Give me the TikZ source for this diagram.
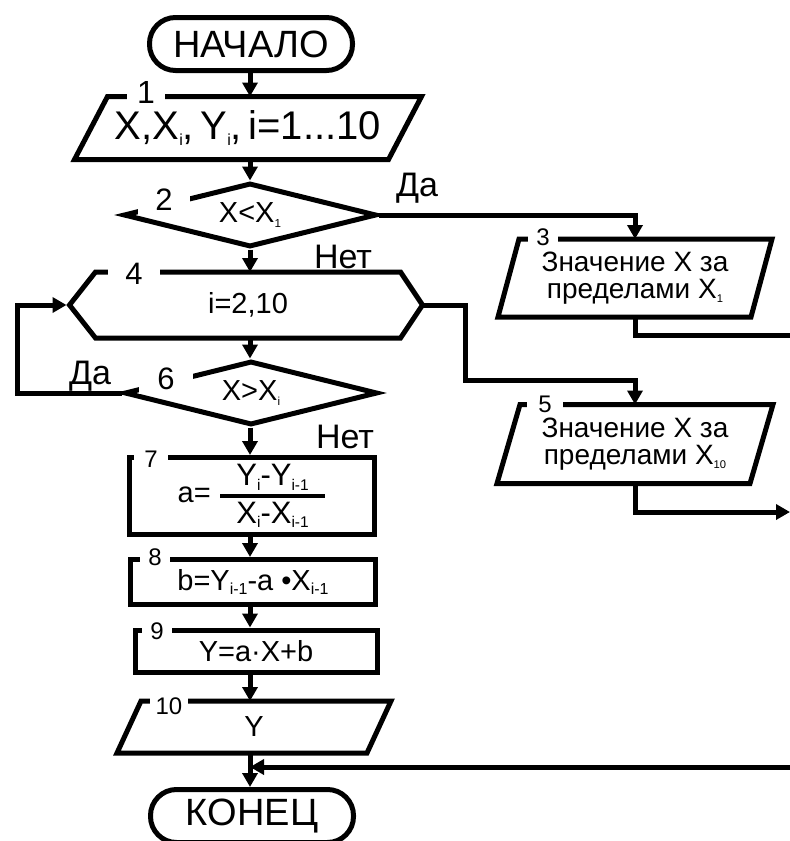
\documentclass[tikz,border=0pt]{standalone}
\usepackage{fontspec}
\setmainfont{Liberation Sans}
\usetikzlibrary{arrows.meta,shapes.geometric}

\newcommand{\fsz}[1]{\fontsize{#1}{#1}\selectfont}
\newcommand{\ix}[2][.4]{\raisebox{-.15em}{\scalebox{#1}{#2}}}
% parallelogram round an (undrawn) node: name, half skew
\newcommand{\ioshape}[2]{%
  \draw ([xshift=#2]#1.north west) -- ([xshift=#2]#1.north east)
    -- ([xshift=-#2]#1.south east) -- ([xshift=-#2]#1.south west) -- cycle;}

\begin{document}
\begin{tikzpicture}[x=1pt,y=-1pt,line width=5pt,
  term/.style={draw,rounded corners=26pt,minimum width=203pt,minimum height=53pt,inner sep=0pt,font=\fsz{38}},
  io/.style={inner sep=0pt,align=center},
  box/.style={draw,inner sep=0pt,font=\fsz{29}},
  cond/.style={draw,diamond,shape aspect=4,minimum width=253pt,minimum height=64pt,inner sep=0pt,font=\fsz{29}},
  nr/.style={fill=white,inner ysep=1pt,font=\fsz{24}},
  lab/.style={font=\fsz{34}},
  arr/.style={-{Triangle[length=14pt,width=15pt]}}]
  \useasboundingbox (0,0) rectangle (790,841);
  \clip (0,0) rectangle (790,841);
  \coordinate (col) at (250,0);

  % main column
  \node[term] (start) at (251,44) {НАЧАЛО};
  \node[io,minimum width=309pt,minimum height=58pt,font=\fsz{40}] (in1) at (248,128)
    {X,X\ix{i},\,Y\ix{i},\,i=1...10};
  \node[cond] (d2) at (250,215) {X<X\ix{1}};
  \node[io,minimum width=300pt,minimum height=61pt,font=\fsz{29}] (cyc) at (248,305) {i=2,10};
  \node[cond] (d6) at (251,393) {X>X\ix{i}};
  \node[box,minimum width=245pt,minimum height=77pt] (b7) at (252,496)
    {a= ${\hbox to 105pt{\hfil\fsz{31}Y\ix[.5]{i}-Y\ix[.5]{i-1}\hfil}\above 4pt
      \hbox to 105pt{\hfil\fsz{31}X\ix[.5]{i}-X\ix[.5]{i-1}\hfil}}$};
  \node[box,minimum width=245pt,minimum height=45pt] (b8) at (253,582)
    {b=Y\ix[.55]{i-1}-a •X\ix[.55]{i-1}};
  \node[box,minimum width=242pt,minimum height=42pt] (b9) at (256,651) {Y=a·X+b};
  \node[io,minimum width=245pt,minimum height=47pt,font=\fsz{29}] (out10) at (254,727) {Y};
  \node[term] (end) at (252,816) {КОНЕЦ};

  % right column
  \node[io,minimum width=248pt,minimum height=73pt,font={\fontsize{28}{27}\selectfont}] (out3) at (635,278)
    {Значение X за\\пределами X\ix{1}};
  \node[io,minimum width=248pt,minimum height=74pt,font={\fontsize{28}{27}\selectfont}] (out5) at (635,444)
    {Значение X за\\пределами X\ix{10}};

  \ioshape{in1}{16.5pt}
  \ioshape{out3}{10.5pt}
  \ioshape{out5}{11.5pt}
  \ioshape{out10}{12pt}
  \coordinate (cyc-w) at ([xshift=-26pt]cyc.west);
  \coordinate (cyc-e) at ([xshift=22pt]cyc.east);
  \draw (cyc-w) -- (cyc.north west) -- (cyc.north east) -- (cyc-e)
    -- (cyc.south east) -- (cyc.south west) -- cycle;

  % connectors
  \foreach \a/\b in {start/in1,in1/d2,d2/cyc,cyc/d6,d6/b7,b7/b8,b8/b9,b9/out10,out10/end}
    \draw[arr] (\a.south -| col) -- (\b.north -| col);
  \coordinate (bend5) at (465,380);
  \coordinate (back) at (17,0);
  \coordinate (edge3) at (795,335);
  \coordinate (edge5) at (790,512);
  \coordinate (edge0) at (795,767);
  \draw[arr] (d2.east) -| (out3.north);
  \draw[arr] (cyc-e) -| (bend5) -| (out5.north);
  \draw[arr,shorten >=3pt] (d6.west) -- (d6.west -| back) |- (cyc-w);
  \draw (out3.south) |- (edge3);
  \draw[arr] (out5.south) |- (edge5);
  \draw[arr] (edge0) -- (edge0 -| col);

  % branch labels
  \node[lab] (yes1) at (417,188) {Да};
  \node[lab] (no1) at (343,257) {Нет};
  \node[lab] (yes2) at (90,376) {Да};
  \node[lab] (no2) at (345,437) {Нет};

  % block numbers
  \node[nr,inner xsep=10pt,inner ysep=0pt,font=\fsz{32}] (n1) at (146,92) {1};
  \node[nr,inner xsep=17pt,inner ysep=4pt,font=\fsz{31}] (n2) at (164,200) {2};
  \node[nr,inner xsep=8pt,inner ysep=0pt] (n3) at (543,237) {3};
  \node[nr,inner xsep=17pt,font=\fsz{31}] (n4) at (134,274) {4};
  \node[nr,inner xsep=11pt,inner ysep=0pt] (n5) at (545,404) {5};
  \node[nr,inner xsep=18pt,inner ysep=4pt,font=\fsz{31}] (n6) at (166,379) {6};
  \node[nr,inner xsep=10pt] (n7) at (151,459) {7};
  \node[nr,inner xsep=8.5pt] (n8) at (155,557) {8};
  \node[nr,inner xsep=8.5pt] (n9) at (157,631) {9};
  \node[nr,inner xsep=6pt] (n10) at (169,706) {10};
\end{tikzpicture}
\end{document}
